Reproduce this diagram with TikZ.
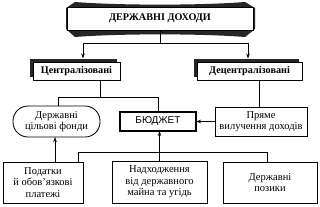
\documentclass[tikz,border=0pt]{standalone}
\usepackage{fontspec}
\setmainfont{Liberation Serif}
\setsansfont{Liberation Sans}
\usetikzlibrary{arrows.meta,shadows}
\begin{document}
\begin{tikzpicture}[x=1pt,y=-1pt,
  every node/.style={inner sep=0pt, outer sep=0pt, align=center, font=\fontsize{10.5}{11.5}\selectfont},
  box/.style={draw, line width=0.85pt, fill=white},
  head/.style={font=\fontsize{10.2}{12}\selectfont\bfseries},
  shbox/.style={box, head, general shadow={fill=black!85, shadow xshift=-3.5pt, shadow yshift=3.5pt}},
  line/.style={line width=0.85pt},
  arr/.style={line width=0.85pt, -{Stealth[length=5pt,width=3.5pt]}},
  ribbon/.style={fill=black!85}]
\useasboundingbox[fill=white] (0,0) rectangle (320,206);
% ribbon behind the title
\fill[ribbon] (66,8) -- (75,2) .. controls (120,5.5) and (200,5.5) .. (245,2) -- (255,8)
  -- (255,29) -- (245,37) .. controls (200,33.5) and (120,33.5) .. (75,37) -- (66,29) -- cycle;
\node[box, head, minimum width=186pt, minimum height=23pt] (top) at (160,18.5) {ДЕРЖАВНІ ДОХОДИ};
\node[shbox, minimum width=87pt, minimum height=18pt] (central) at (76.5,71) {Централізовані};
\node[shbox, minimum width=105pt, minimum height=18pt] (decentral) at (249.5,71) {Децентралізовані};
\node[box, rounded corners=15pt, minimum width=87pt, minimum height=31pt] (fund) at (56.5,121.5) {Державні\\цільові фонди};
\node[box, line width=1.4pt, minimum width=76pt, minimum height=19pt, font=\fontsize{10}{12}\selectfont\sffamily] (budget) at (158,121.5) {БЮДЖЕТ};
\node[box, minimum width=92pt, minimum height=29pt] (direct) at (261,121.5) {Пряме\\вилучення доходів};
\node[box, minimum width=80pt, minimum height=41pt] (taxes) at (43,182.5) {Податки\\й обов'язкові\\платежі};
\node[box, minimum width=95pt, minimum height=42pt] (prop) at (159.5,182) {Надходження\\від державного\\майна та угідь};
\node[box, minimum width=94pt, minimum height=41pt] (loans) at (270,182.5) {Державні\\позики};
% top level
\coordinate (j1) at (160,43);
\draw[line] (top.south) -- (j1);
\draw[arr] (j1) -| ([xshift=6.5pt,yshift=3.5pt]central.north);
\draw[arr] (j1) -| ([xshift=-1.5pt,yshift=3.5pt]decentral.north);
% centralised
\coordinate (j2) at (100,97);
\draw[line] (central.south -| j2) -- (j2);
\draw[line] ([xshift=1.5pt]fund.north) |- (j2 -| budget.north) -- (budget.north);
% decentralised
\draw[line] ([xshift=-2pt]direct.north |- decentral.south) -- ([xshift=-2pt]direct.north);
\draw[arr] (direct.west) -- (budget.east);
% bottom
\draw[arr] ([xshift=12pt]taxes.north) -- ([xshift=12pt]taxes.north |- fund.south);
\draw[arr] (prop.north) -- (prop.north |- budget.south);
\draw[line] ([xshift=35pt]taxes.north) -- ++(0,-10) -| ([xshift=-3pt]loans.north);
\end{tikzpicture}
\end{document}
